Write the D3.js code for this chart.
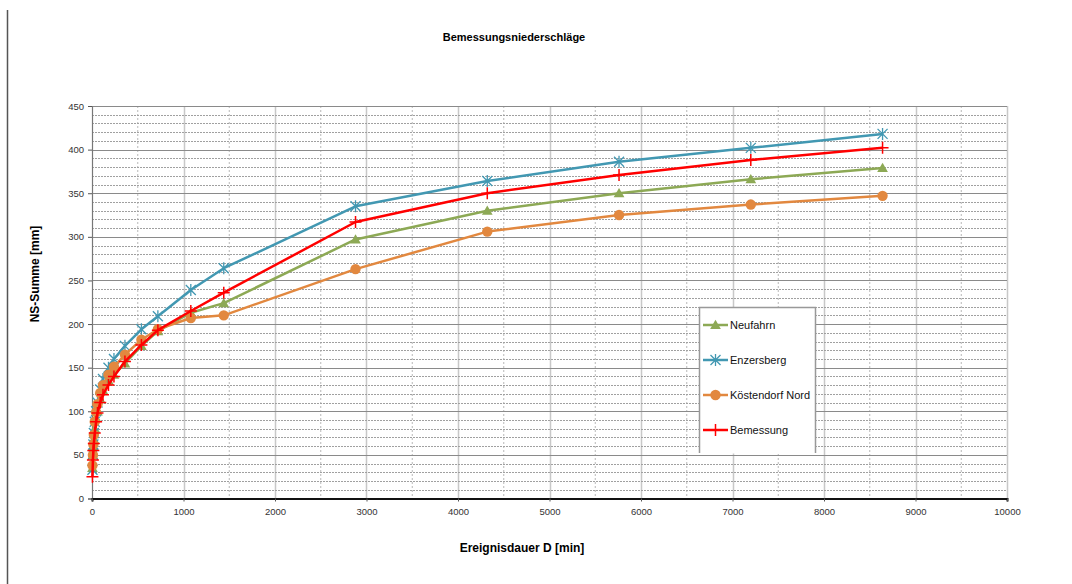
<!DOCTYPE html>
<html>
<head>
<meta charset="utf-8">
<script src="https://cdn.jsdelivr.net/npm/d3@7/dist/d3.min.js"></script>
<style>
  html, body { margin: 0; padding: 0; background: #fff; }
  svg { display: block; font-family: "Liberation Sans", Arial, sans-serif; }
</style>
</head>
<body>
<svg id="chart" width="1072" height="584"></svg>
<script>
// ---- data ----
const durations = [5, 10, 15, 20, 30, 45, 60, 90, 120, 180, 240, 360, 540, 720, 1080, 1440, 2880, 4320, 5760, 7200, 8640];
const neufahrn   = [35, 50, 60, 68, 80, 92, 100, 114, 124, 135, 142, 155, 175, 192, 213, 224, 297, 330, 350, 366, 379];
const enzersberg = [33, 50, 62, 75, 88, 100, 110, 125, 137, 150, 160, 175, 194, 209, 239, 264, 335, 364, 386, 402, 418];
const koestendorf = [38, 50, 62, 73, 88, 99, 108, 121, 130, 142, 151, 165, 182, 194, 207, 210, 263, 306, 325, 337, 347];
const bemessung  = [25, 44, 55, 63, 75, 88, 98, 110, 119, 130, 140, 157, 176, 193, 215, 236, 317, 350, 371, 388, 402];
const seriesNames = ["Neufahrn", "Enzersberg", "Köstendorf Nord", "Bemessung"];
const xTicks = [0, 1000, 2000, 3000, 4000, 5000, 6000, 7000, 8000, 9000, 10000];
const yTicks = [0, 50, 100, 150, 200, 250, 300, 350, 400, 450];
const title = "Bemessungsniederschläge";
const xTitle = "Ereignisdauer D [min]";
const yTitle = "NS-Summe [mm]";

const seriesValues = [neufahrn, enzersberg, koestendorf, bemessung];
const colors = ["#8DA955", "#4298B2", "#E2883F", "#FF0000"];
const markers = ["triangle", "star", "circle", "plus"];

const svg = d3.select("#chart");
const x = d3.scaleLinear().domain([0, 10000]).range([92, 1007]);
const y = d3.scaleLinear().domain([0, 450]).range([498.5, 106]);

// outer border line on left
svg.append("line").attr("x1", 7.5).attr("x2", 7.5).attr("y1", 10).attr("y2", 584)
  .attr("stroke", "#555").attr("stroke-width", 1.5);

const grid = svg.append("g");
// minor vertical
d3.range(500, 10001, 1000).forEach(v => {
  grid.append("line").attr("x1", x(v)).attr("x2", x(v)).attr("y1", y(450)).attr("y2", y(0))
    .attr("stroke", "#b8b8b8").attr("stroke-width", 1).attr("stroke-dasharray", "2,2");
});
// major vertical
xTicks.slice(1).forEach(v => {
  grid.append("line").attr("x1", Math.round(x(v)) + 0.5).attr("x2", Math.round(x(v)) + 0.5).attr("y1", y(450)).attr("y2", y(0))
    .attr("stroke", "#c8c8c8").attr("stroke-width", 1.5);
});
// minor horizontal
d3.range(10, 451, 10).filter(v => v % 50 !== 0).forEach(v => {
  grid.append("line").attr("x1", x(0)).attr("x2", x(10000)).attr("y1", Math.round(y(v)) + 0.5).attr("y2", Math.round(y(v)) + 0.5)
    .attr("stroke", "#a0a0a0").attr("stroke-width", 1).attr("stroke-dasharray", "2,1");
});
// major horizontal
yTicks.slice(1).forEach(v => {
  grid.append("line").attr("x1", x(0)).attr("x2", x(10000)).attr("y1", Math.round(y(v)) + 0.5).attr("y2", Math.round(y(v)) + 0.5)
    .attr("stroke", "#8a8a8a").attr("stroke-width", 1);
});

// axes
const yAxis = d3.axisLeft(y).tickValues(yTicks).tickSize(4).tickPadding(4).tickFormat(d3.format("d"));
const gy = svg.append("g").attr("transform", `translate(${x(0)},0)`).call(yAxis);
gy.select(".domain").attr("stroke", "#777").attr("stroke-width", 1.2);
gy.selectAll(".tick line").attr("stroke", "#555");
gy.selectAll("text").attr("font-size", 9.5).attr("fill", "#333").attr("font-family", "Liberation Sans, Arial, sans-serif");

const xAxis = d3.axisBottom(x).tickValues(xTicks).tickSize(3).tickPadding(7).tickFormat(d3.format("d"));
const gx = svg.append("g").attr("transform", `translate(0,${y(0)})`).call(xAxis);
gx.select(".domain").attr("stroke", "#111").attr("stroke-width", 2);
gx.selectAll(".tick line").attr("stroke", "#555");
gx.selectAll("text").attr("font-size", 9.5).attr("fill", "#333").attr("font-family", "Liberation Sans, Arial, sans-serif");

// marker drawer
function drawMarker(g, type, cx, cy, color) {
  if (type === "triangle") {
    g.append("path").attr("d", d3.symbol().type(d3.symbolTriangle).size(50)())
      .attr("transform", `translate(${cx},${cy + 1})`).attr("fill", color);
  } else if (type === "circle") {
    g.append("circle").attr("cx", cx).attr("cy", cy).attr("r", 5.2).attr("fill", color);
  } else if (type === "star") {
    const r = 5;
    g.append("path").attr("d",
      `M${cx - r},${cy - r}L${cx + r},${cy + r}M${cx - r},${cy + r}L${cx + r},${cy - r}M${cx},${cy - r - 1}L${cx},${cy + r + 1}`)
      .attr("stroke", color).attr("stroke-width", 1.3).attr("fill", "none");
  } else if (type === "plus") {
    const r = 6;
    g.append("path").attr("d", `M${cx - r},${cy}L${cx + r},${cy}M${cx},${cy - r}L${cx},${cy + r}`)
      .attr("stroke", color).attr("stroke-width", 1.5).attr("fill", "none");
  }
}

// series
const line = d3.line().x(d => x(d[0])).y(d => y(d[1])).curve(d3.curveLinear);
seriesValues.forEach((vals, i) => {
  const pts = durations.map((d, j) => [d, vals[j]]);
  const g = svg.append("g");
  g.append("path").datum(pts).attr("d", line).attr("fill", "none")
    .attr("stroke", colors[i]).attr("stroke-width", 2.5).attr("stroke-linejoin", "round");
  pts.forEach(p => drawMarker(g, markers[i], x(p[0]), y(p[1]), colors[i]));
});

// legend
const lg = svg.append("g");
lg.append("rect").attr("x", 699.5).attr("y", 307.5).attr("width", 116).attr("height", 146)
  .attr("fill", "#fff").attr("stroke", "none");
lg.append("path").attr("d", "M699.5,453V307.5H815.5V453").attr("fill", "none").attr("stroke", "#999").attr("stroke-width", 1.5);
const legendY = [325, 360, 395, 430];
seriesNames.forEach((name, i) => {
  const ly = legendY[i];
  lg.append("line").attr("x1", 703).attr("x2", 728).attr("y1", ly).attr("y2", ly)
    .attr("stroke", colors[i]).attr("stroke-width", 2.5);
  drawMarker(lg, markers[i], 715.5, ly, colors[i]);
  lg.append("text").attr("x", 730).attr("y", ly + 4).attr("font-size", 11).attr("fill", "#111").text(name);
});

// titles
svg.append("text").attr("x", 514).attr("y", 41).attr("text-anchor", "middle")
  .attr("font-size", 11).attr("font-weight", "bold").text(title);
svg.append("text").attr("x", 522).attr("y", 552).attr("text-anchor", "middle")
  .attr("font-size", 12).attr("font-weight", "bold").text(xTitle);
svg.append("text").attr("transform", "translate(39,274) rotate(-90)").attr("text-anchor", "middle")
  .attr("font-size", 12).attr("font-weight", "bold").text(yTitle);
</script>
</body>
</html>
